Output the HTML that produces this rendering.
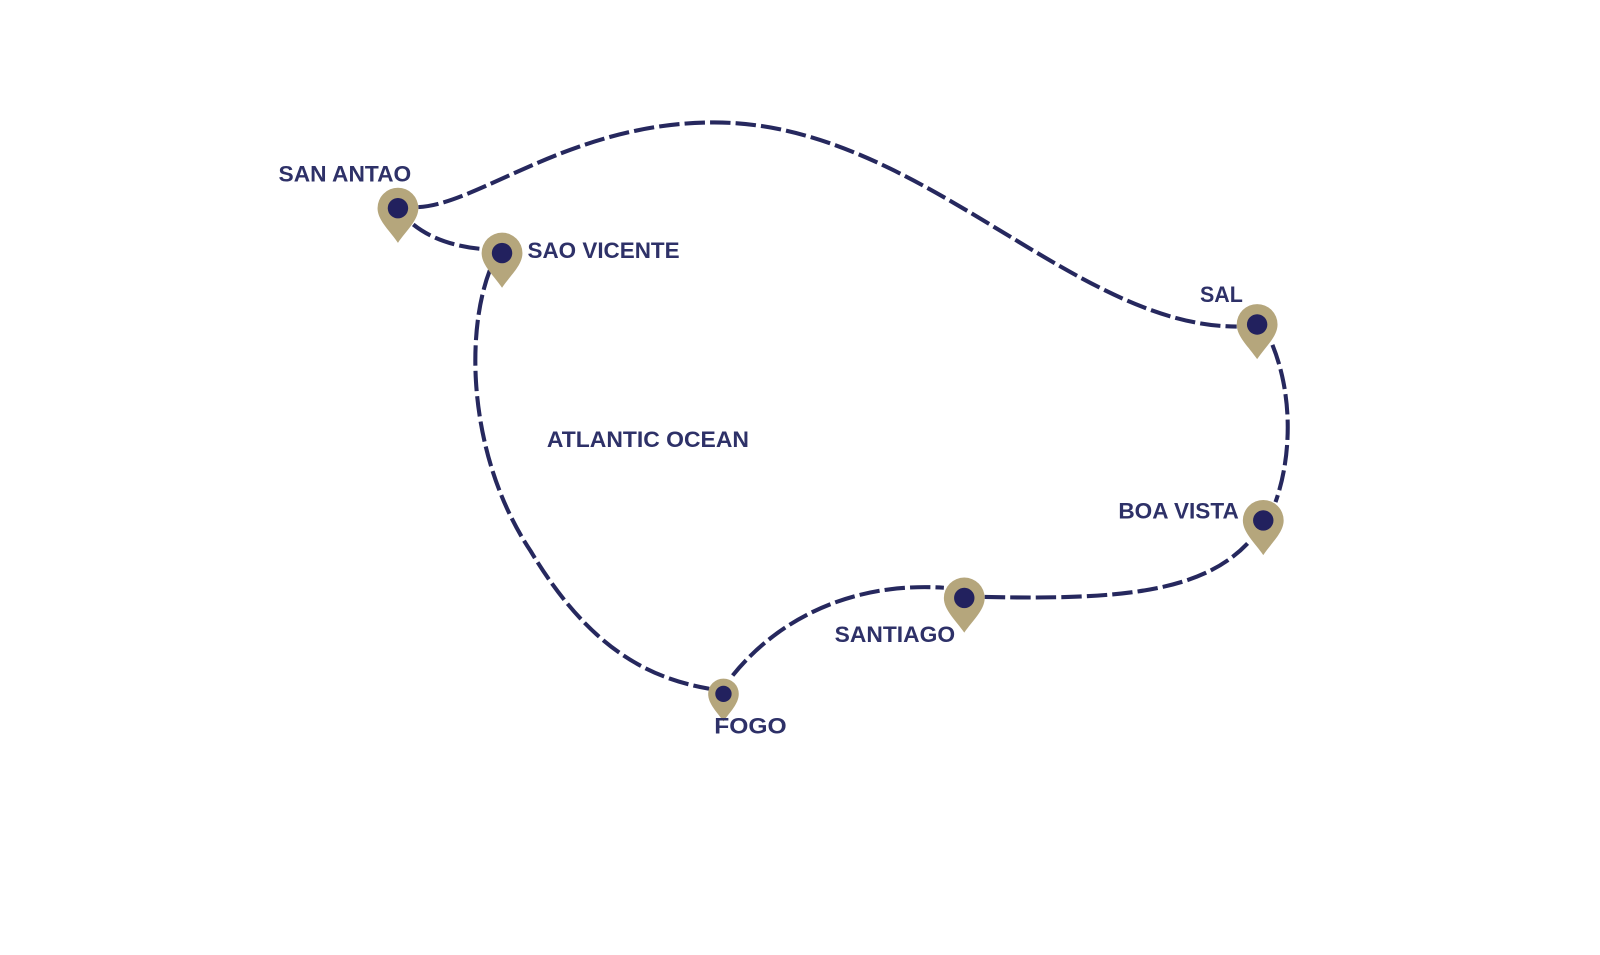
<!DOCTYPE html>
<html><head><meta charset="utf-8"><style>
html,body{margin:0;padding:0;background:#fff;}
svg{display:block;}
text{font-family:"Liberation Sans",sans-serif;font-size:22px;fill:#2e3168;font-weight:bold;}
</style></head><body>
<svg width="1600" height="955" viewBox="0 0 1600 955" xmlns="http://www.w3.org/2000/svg">
<g transform="scale(1.0204)">
<g fill="none" stroke="#26285e" stroke-width="4" stroke-dasharray="20 5">
<path d="M410,203 C470,200 560,120 700,120 C900,120 1050,320 1212,320"/>
<path d="M405,220 Q430,240 472,244"/>
<path d="M480,265 C455,330 460,450 520,540 C580,640 640,665 695,675"/>
<path d="M718,662 C760,610 830,570 925,576"/>
<path d="M965,585 C1100,588 1180,580 1225,530"/>
<path d="M1247,338 C1268,390 1265,450 1250,492"/>
</g>
<g fill="#b5a67c">
<path d="M390,238 C382,226 370,216 370,204 A20,20 0 1 1 410,204 C410,216 398,226 390,238 Z"/>
<path d="M492,282 C484,270 472,260 472,248 A20,20 0 1 1 512,248 C512,260 500,270 492,282 Z"/>
<path d="M1232,352 C1224,340 1212,330 1212,318 A20,20 0 1 1 1252,318 C1252,330 1240,340 1232,352 Z"/>
<path d="M1238,544 C1230,532 1218,522 1218,510 A20,20 0 1 1 1258,510 C1258,522 1246,532 1238,544 Z"/>
<path d="M945,620 C937,608 925,598 925,586 A20,20 0 1 1 965,586 C965,598 953,608 945,620 Z"/>
<path d="M709,707 C703,698 694,690 694,680 A15,15 0 1 1 724,680 C724,690 715,698 709,707 Z"/>
</g>
<g fill="#22215e">
<circle cx="390" cy="204" r="10"/>
<circle cx="492" cy="248" r="10"/>
<circle cx="1232" cy="318" r="10"/>
<circle cx="1238" cy="510" r="10"/>
<circle cx="945" cy="586" r="10"/>
<circle cx="709" cy="680" r="8"/>
</g>
<text x="273" y="178" textLength="130" lengthAdjust="spacingAndGlyphs">SAN ANTAO</text>
<text x="517" y="253" textLength="149" lengthAdjust="spacingAndGlyphs">SAO VICENTE</text>
<text x="1176" y="296" textLength="42" lengthAdjust="spacingAndGlyphs">SAL</text>
<text x="536" y="438" textLength="198" lengthAdjust="spacingAndGlyphs">ATLANTIC OCEAN</text>
<text x="1096" y="508" textLength="118" lengthAdjust="spacingAndGlyphs">BOA VISTA</text>
<text x="818" y="629" textLength="118" lengthAdjust="spacingAndGlyphs">SANTIAGO</text>
<text x="700" y="719" textLength="71" lengthAdjust="spacingAndGlyphs">FOGO</text>
</g>
</svg>
</body></html>
